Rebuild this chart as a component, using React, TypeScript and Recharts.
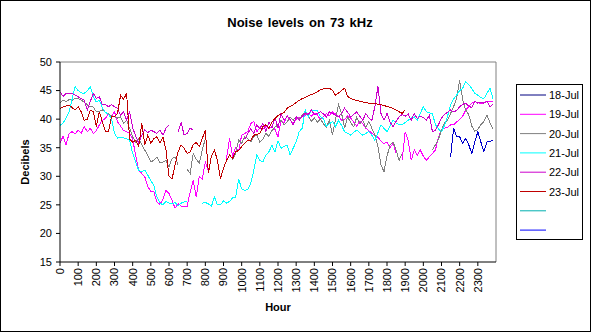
import { LineChart, Line, XAxis, YAxis, ReferenceLine } from 'recharts'

// 10-minute slots, 144 per day; one tick label every hour
const HOUR_LABELS = ['0', '100', '200', '300', '400', '500', '600', '700', '800', '900', '1000', '1100',
  '1200', '1300', '1400', '1500', '1600', '1700', '1800', '1900', '2000', '2100', '2200', '2300']
const DB_TICKS = [15, 20, 25, 30, 35, 40, 45, 50]

// 18-Jul only starts at 21:30 (slot 129)
const JUL18_START = 129
const JUL18 = [33.4, 38.4, 37.0, 36.9, 35.8, 36.6, 35.5, 34.0, 36.0, 37.8, 36.0, 34.3, 36.0, 36.1, 36.3]

const JUL19 = [
  35.8, 37.0, 35.5, 37.5, 37.8, 37.4, 38.1, 37.5, 38.7, 37.8,
  38.4, 37.5, 38.0, 39.0, 39.8, 40.1, 41.0, 40.5, 41.3, 39.5,
  38.8, 38.0, 37.8, 37.5, 36.5, 33.6, 31.1, 30.5, 29.9, 28.2,
  27.4, 27.3, 25.5, 25.1, 26.0, 27.5, 27.0, 25.8, 24.4, 25.2,
  24.8, 24.8, 24.8, 27.3, 29.3, 26.4, 30.0, 29.5, 32.5, 31.0,
  null, null, null, null, null, 33.1, 36.6, 33.5, 35.0, 34.5,
  37.2, 37.5, 37.8, 39.2, 39.6, 37.8, 38.5, 38.2, 38.7, 38.4,
  38.6, 38.2, 36.9, 39.8, 39.4, 40.6, 39.8, 39.3, 40.0, 40.3,
  40.4, 40.7, 41.0, 40.5, 41.0, 40.8, 39.9, 40.5, 41.0, 40.6,
  41.3, 40.9, 40.5, 39.8, 39.9, 40.6, 40.2, 39.5, 38.8, 39.6,
  39.2, 38.4, 38.0, 37.5, 37.2, 36.8, 36.2, 35.7, 36.0, 35.0,
  35.8, 34.0, null, 32.8, 37.8, 36.3, 32.8, 34.6, 33.7, 34.6,
  33.5, 32.8, 33.4, 34.0, 34.6, 36.9, 38.1, 38.4, 38.6, 39.0,
  39.0, 39.5, 39.9, 40.5, 41.6, 42.2, 42.8, 43.1, 42.9, 42.7,
  42.9, 43.2, 43.0, 43.1,
]

const JUL20 = [
  42.8, 43.3, 43.1, 43.4, 43.3, 43.7, 43.6, 43.3, 43.0, 42.5,
  42.2, 42.1, 41.3, 41.4, 41.6, 41.2, 40.9, 40.6, 40.4, 40.2,
  40.4, 39.3, 39.8, 38.4, 36.9, 36.0, 36.6, 35.5, 34.6, 33.6,
  32.5, 32.8, 33.4, 32.3, 32.5, 32.8, 31.6, 33.1, 33.4, 32.0,
  null, null, 31.2, 30.5, 34.0, 33.0, 32.3, 34.6, 36.6, null,
  null, null, null, null, null, null, null, 32.8, 34.0, 36.3,
  35.8, 36.9, 36.6, 36.0, 37.0, 37.2, 36.0, 36.5, 37.5, 37.0,
  38.0, 38.6, 39.0, 39.8, 39.0, 39.5, 40.4, 39.8, 40.4, 40.0,
  40.7, 41.2, 40.5, 39.6, 40.2, 39.5, 40.0, 39.2, 38.6, 39.8,
  37.2, 40.0, 42.5, 41.0, 38.4, 40.4, 39.4, 38.7, 40.3, 39.2,
  39.8, 38.5, 39.6, 38.4, 37.2, 35.2, 32.0, 30.8, 33.5, 35.5,
  36.0, 34.6, 32.8, 34.0, null, null, null, null, null, null,
  null, null, null, 34.6, 35.5, 36.5, 38.1, 39.3, 39.8, 41.0,
  42.2, 43.6, 46.8, 43.4, 41.6, 40.8, 38.8, 37.9, 38.2, 39.0,
  39.6, 40.7, 39.4, 38.3,
]

const JUL21 = [
  38.9, 39.3, 40.2, 41.3, 43.5, 45.7, 45.0, 44.6, 44.5, 45.0,
  45.6, 44.0, 43.0, 43.3, 42.0, 41.2, 40.8, 40.2, 37.5, 36.7,
  36.8, 36.7, 36.6, 36.3, 34.0, 32.5, 31.0, 30.8, 31.1, 30.2,
  29.2, 28.4, 26.4, 25.3, 25.0, 25.6, 25.3, 25.2, 25.4, 24.8,
  25.3, 25.5, 25.6, null, null, null, null, 25.3, 25.4, 25.2,
  24.7, 26.4, 25.0, 25.0, 25.7, 25.3, 25.6, 26.2, 26.3, 29.5,
  27.8, 27.5, 27.7, 28.8, 31.0, 33.7, 32.8, 32.5, 33.7, 34.3,
  35.4, 34.3, 36.2, 34.9, 35.2, 35.5, 33.7, 34.9, 36.0, 37.8,
  38.4, 41.6, 40.4, 41.6, 41.6, 41.5, 40.4, 40.1, 38.7, 39.2,
  39.6, 38.7, 39.8, 38.9, 37.8, 37.5, 37.2, 37.7, 38.1, 37.6,
  37.2, 37.5, 37.8, 37.2, 36.3, 37.6, 39.0, 38.4, 37.8, 38.8,
  39.8, 39.3, 39.1, 39.0, 39.4, 39.8, 40.2, 40.4, 39.8, 41.0,
  42.2, 41.3, 41.1, 41.0, 39.0, 38.3, 37.8, 38.9, 40.5, 42.5,
  43.5, 44.2, 45.0, 45.4, 46.6, 46.0, 45.4, 44.5, 44.2, 43.8,
  43.6, 44.5, 45.4, 43.6,
]

const JUL22 = [
  44.8, 44.0, 44.5, 44.5, 44.5, 44.2, 43.9, 43.6, 43.3, 41.6,
  43.1, 44.5, 43.6, 43.9, 42.5, 42.5, 42.2, 42.5, 42.2, 41.9,
  40.7, 41.3, 39.8, 41.3, 38.5, 37.0, 35.8, 37.2, 38.1, 37.6,
  38.1, 37.8, 37.5, 38.1, 37.2, 38.4, 39.0, null, null, 37.8,
  39.4, 37.2, 37.5, 38.4, 38.1, null, null, null, null, null,
  null, null, null, null, null, null, null, null, null, null,
  null, 36.5, 37.5, 38.3, 37.5, 39.0, 38.3, 39.3, 37.8, 39.5,
  38.5, 40.2, 38.5, 41.0, 39.8, 40.5, 40.0, 39.0, 40.4, 39.8,
  40.5, 41.0, 40.8, 41.6, 40.8, 41.0, 41.3, 40.9, 40.4, 41.3,
  41.0, 40.7, 40.4, 41.0, 41.9, 41.2, 40.4, 40.8, 41.3, 40.5,
  39.8, 41.0, 40.2, 39.8, 42.2, 45.7, 41.0, 39.8, 41.0, 39.5,
  38.7, 39.6, 40.4, 40.8, 40.5, 40.9, 39.8, 41.0, 40.1, 40.5,
  40.3, 39.8, 40.7, 37.8, 38.1, 39.0, 40.2, 40.8, 41.2, 41.6,
  41.3, 41.5, 42.2, 42.6, 42.8, 42.3, 42.0, 43.1, 42.8, 43.0,
  42.8, 43.1, 42.2, 42.6,
]

// 23-Jul stops at about 18:40
const JUL23 = [
  41.9, 42.1, 42.3, 42.5, 42.0, 41.6, 42.2, 41.3, 39.8, 40.0,
  41.6, 41.3, 38.7, 41.3, 39.5, 37.8, 37.8, 40.4, 40.4, 41.0,
  44.2, 43.5, 44.5, 36.5, 36.0, 36.3, 35.2, 39.3, 35.5, 37.2,
  35.8, 36.6, 36.9, 35.8, 36.9, 34.6, 30.0, 29.5, 32.0, 34.3,
  35.5, 34.9, 34.0, 34.3, 35.5, 35.9, 35.2, 36.6, 38.1, 30.5,
  33.5, 34.6, 32.8, 29.6, 31.4, 32.8, 33.7, 33.1, 34.3, 34.5,
  35.2, 35.8, 36.3, 36.3, 37.2, 37.3, 37.5, 38.7, 39.0, 38.4,
  39.5, 40.1, 40.6, 40.9, 41.2, 41.9, 42.2, 42.5, 42.9, 43.3,
  43.6, 43.8, 44.1, 44.3, 44.5, 44.8, 45.1, 45.3, 45.4, 45.4,
  45.0, 44.2, 44.6, 45.0, 45.4, 44.0, 43.6, 43.4, 43.3, 43.1,
  43.0, 42.9, 42.8, 42.8, 42.8, 42.6, 42.5, 42.4, 42.2, 42.1,
  41.9, 41.6, 41.3, 41.0, 41.6,
]

const LEGEND = [
  { label: '18-Jul', color: '#000080' },
  { label: '19-Jul', color: '#ff00ff' },
  { label: '20-Jul', color: '#808080' },
  { label: '21-Jul', color: '#00ffff' },
  { label: '22-Jul', color: '#cc00cc' },
  { label: '23-Jul', color: '#c00000' },
  { label: '', color: '#00b0b0' },
  { label: '', color: '#0000ff' },
]

const SLOTS = 144
const data = Array.from({ length: SLOTS }, (_, i) => ({
  slot: i,
  jul18: i >= JUL18_START ? JUL18[i - JUL18_START] : null,
  jul19: JUL19[i],
  jul20: JUL20[i],
  jul21: JUL21[i],
  jul22: JUL22[i],
  jul23: i < JUL23.length ? JUL23[i] : null,
}))

const FONT = '"Liberation Sans", Arial, sans-serif'

const HourTick = ({ x, y, payload }: any) => (
  <text x={x} y={y} transform={`rotate(-90 ${x} ${y})`} textAnchor="end" dy="0.35em"
    fontSize={11} fill="#000" fontFamily={FONT}>
    {HOUR_LABELS[Math.round(payload.value / 6)]}
  </text>
)

// Excel draws aliased 1px lines
const lineProps = { strokeWidth: 1, dot: false, isAnimationActive: false, shapeRendering: 'crispEdges' } as const

export default function App() {
  return (
    <div style={{ position: 'absolute', left: 0, top: 0, width: 593, height: 334, background: '#fff', fontFamily: FONT }}>
      <LineChart width={593} height={334} data={data} margin={{ top: 62, right: 97, bottom: 42, left: 0 }}>
        <XAxis dataKey="slot" type="number" domain={[0, SLOTS]} ticks={HOUR_LABELS.map((_, i) => i * 6)}
          interval={0} tick={<HourTick />} tickSize={4} tickMargin={2} height={30}
          axisLine={{ stroke: '#000' }} tickLine={{ stroke: '#000' }} />
        <YAxis type="number" domain={[15, 50]} ticks={DB_TICKS} interval={0} width={60}
          tickSize={4} tickMargin={4} tick={{ fontSize: 11, fill: '#000', fontFamily: FONT }}
          axisLine={{ stroke: '#000' }} tickLine={{ stroke: '#000' }} />
        <ReferenceLine y={50} stroke="#808080" />
        <ReferenceLine x={SLOTS} stroke="#808080" />
        <Line dataKey="jul18" stroke="#0000cc" {...lineProps} />
        <Line dataKey="jul19" stroke="#ff00ff" {...lineProps} />
        <Line dataKey="jul20" stroke="#808080" {...lineProps} />
        <Line dataKey="jul21" stroke="#00ffff" {...lineProps} />
        <Line dataKey="jul22" stroke="#cc00cc" {...lineProps} />
        <Line dataKey="jul23" stroke="#c00000" {...lineProps} />
      </LineChart>
      <svg width={593} height={334} style={{ position: 'absolute', left: 0, top: 0, pointerEvents: 'none' }}>
        <rect x={0.5} y={0.5} width={590} height={331} fill="none" stroke="#000" />
        <text x={300} y={27} textAnchor="middle" fontSize={13} fontWeight="bold" wordSpacing={1.5} fontFamily={FONT}>
          Noise levels on 73 kHz
        </text>
        <text x={25} y={162} transform="rotate(-90 25 162)" textAnchor="middle" dy="0.35em"
          fontSize={11} fontWeight="bold" fontFamily={FONT}>Decibels</text>
        <text x={278} y={311} textAnchor="middle" fontSize={11} fontWeight="bold" fontFamily={FONT}>Hour</text>
        <rect x={516.5} y={84.5} width={66} height={155} fill="#fff" stroke="#000" />
        {LEGEND.map((l, i) => {
          const y = 95 + i * 19.3
          return (
            <g key={i}>
              <line x1={520} x2={546} y1={y} y2={y} stroke={l.color} strokeWidth={1} />
              <text x={549} y={y + 4} fontSize={11} fontFamily={FONT}>{l.label}</text>
            </g>
          )
        })}
      </svg>
    </div>
  )
}
